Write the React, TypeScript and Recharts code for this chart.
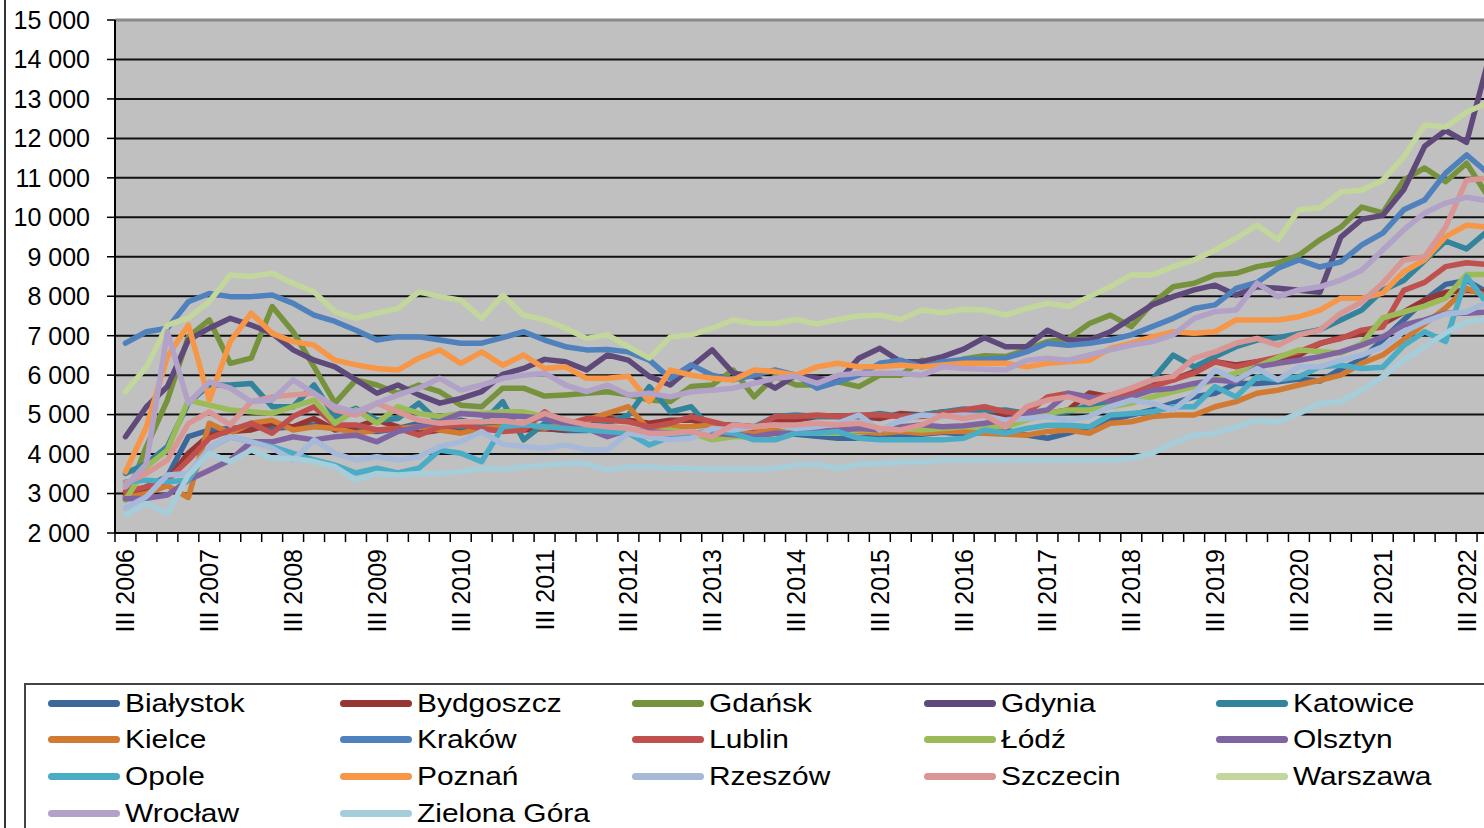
import { LineChart, Line, XAxis, YAxis, CartesianGrid, ReferenceLine } from "recharts";

// quarters III 2006 .. IV 2022
const quarterCount = 66;
const yearLabels = [
  "III 2006", "III 2007", "III 2008", "III 2009", "III 2010", "III 2011", "III 2012", "III 2013", "III 2014",
  "III 2015", "III 2016", "III 2017", "III 2018", "III 2019", "III 2020", "III 2021", "III 2022",
];
const yTicks = [2000, 3000, 4000, 5000, 6000, 7000, 8000, 9000, 10000, 11000, 12000, 13000, 14000, 15000];

const bialystok = [2920, 3170, 3430, 4440, 4610, 4650, 4690, 4650, 4690, 4740, 4650, 4610, 4570, 4650, 4780, 4740, 4860, 4740, 4690, 4700, 4650, 4600, 4600, 4650, 4550, 4500, 4550, 4500, 4550, 4500, 4500, 4550, 4500, 4450, 4400, 4400, 4450, 4450, 4500, 4550, 4500, 4550, 4610, 4480, 4400, 4530, 4690, 4860, 4990, 5120, 5290, 5450, 5540, 5790, 5790, 5830, 5900, 5850, 6150, 6400, 6900, 7400, 7900, 8300, 8400, 8100];
const bydgoszcz = [2960, 3090, 3340, 4020, 4480, 4570, 4610, 4780, 4690, 4900, 4610, 4690, 4860, 4690, 4530, 4610, 4650, 4610, 4650, 4610, 4650, 4610, 4690, 4900, 4860, 4780, 4860, 4860, 4740, 4740, 4690, 4860, 4860, 4950, 4950, 4950, 4900, 5030, 4990, 5070, 5030, 4990, 4990, 4990, 5030, 5120, 5550, 5450, 5620, 5790, 5880, 6090, 6340, 6260, 6340, 6400, 6500, 6800, 6950, 7050, 7300, 7600, 7900, 8100, 8150, 8100];
const gdansk = [2840, 4190, 5370, 6970, 7400, 6300, 6430, 7740, 7100, 6210, 5290, 5880, 5750, 5540, 5750, 5580, 5240, 5200, 5670, 5670, 5470, 5500, 5540, 5580, 5500, 5370, 5330, 5710, 5750, 6130, 5450, 5970, 5750, 5750, 5830, 5710, 6000, 6000, 6380, 6210, 6410, 6490, 6470, 6640, 6850, 6930, 7310, 7520, 7230, 7820, 8240, 8330, 8540, 8580, 8750, 8840, 9040, 9430, 9750, 10260, 10110, 10940, 11250, 10900, 11370, 10550];
const gdynia = [4440, 5200, 5710, 6890, 7190, 7440, 7270, 7060, 6640, 6380, 6210, 5880, 5540, 5750, 5500, 5290, 5410, 5580, 6020, 6170, 6400, 6340, 6130, 6510, 6380, 5970, 5750, 6210, 6640, 6050, 5970, 5670, 6000, 5920, 5830, 6430, 6680, 6340, 6340, 6470, 6660, 6950, 6720, 6720, 7140, 6890, 6890, 7100, 7440, 7780, 7990, 8160, 8280, 8030, 8240, 8200, 8150, 8100, 9500, 9950, 10050, 10700, 11800, 12200, 11900, 13900];
const katowice = [3510, 3760, 4190, 5290, 5750, 5750, 5790, 5200, 5200, 5750, 4950, 5160, 4860, 4900, 5290, 4780, 4690, 4780, 5330, 4360, 4780, 4650, 4690, 4780, 4990, 5710, 5070, 5200, 4610, 4650, 4690, 4950, 4990, 4950, 4950, 4950, 5030, 4950, 4990, 5070, 5140, 5100, 5120, 5030, 5030, 5070, 5240, 5330, 5500, 5880, 6510, 6210, 6470, 6720, 6890, 6950, 7050, 7150, 7400, 7650, 8150, 8400, 8900, 9400, 9200, 9650];
const kielce = [2900, 3000, 3200, 2900, 4780, 4530, 4780, 4860, 4610, 4690, 4650, 4530, 4610, 4650, 4690, 4610, 4530, 4650, 4690, 4780, 4650, 4780, 4860, 5030, 5200, 4610, 4690, 4690, 4740, 4650, 4570, 4610, 4570, 4530, 4530, 4570, 4530, 4570, 4530, 4570, 4570, 4530, 4500, 4480, 4570, 4610, 4530, 4780, 4820, 4950, 4990, 4990, 5200, 5330, 5540, 5620, 5750, 5870, 6000, 6300, 6510, 6900, 7300, 7700, 8200, 8000];
const krakow = [6810, 7100, 7190, 7860, 8070, 7990, 7990, 8030, 7820, 7520, 7360, 7140, 6890, 6970, 6970, 6890, 6810, 6810, 6950, 7100, 6890, 6720, 6640, 6650, 6590, 6380, 5920, 6260, 6000, 5880, 6000, 6130, 6000, 5670, 5830, 6000, 6300, 6380, 6210, 6340, 6400, 6400, 6430, 6590, 6810, 6760, 6810, 6890, 7020, 7230, 7440, 7690, 7780, 8200, 8350, 8710, 8920, 8740, 8870, 9300, 9600, 10190, 10440, 11120, 11580, 11130];
const lublin = [3050, 3170, 3340, 3850, 4400, 4610, 4780, 4530, 4950, 5200, 4740, 4740, 4610, 4650, 4480, 4690, 4740, 4650, 4570, 4610, 5070, 4740, 4900, 4860, 4820, 4690, 4780, 4950, 4820, 4690, 4650, 4950, 4950, 4990, 4950, 4990, 4990, 4950, 4950, 5030, 5120, 5200, 5070, 5030, 5450, 5540, 5400, 5500, 5540, 5710, 5880, 6050, 6340, 6210, 6340, 6460, 6590, 6810, 6930, 7140, 7220, 8150, 8350, 8750, 8850, 8800];
const lodz = [2840, 3680, 4100, 5370, 5240, 5120, 5070, 5030, 5200, 5370, 4780, 5120, 4780, 5200, 5030, 4950, 5030, 5030, 5070, 5070, 4950, 4780, 4690, 4690, 4650, 4530, 4610, 4530, 4360, 4440, 4440, 4490, 4610, 4530, 4530, 4610, 4610, 4650, 4610, 4650, 4690, 4690, 4690, 4860, 5030, 5120, 5120, 5200, 5290, 5450, 5580, 5710, 5880, 6050, 6210, 6450, 6640, 6600, 6560, 6800, 7450, 7600, 7750, 7950, 8550, 8550];
const olsztyn = [2870, 2880, 2960, 3340, 3590, 3850, 4310, 4310, 4440, 4360, 4440, 4480, 4310, 4570, 4690, 4820, 5030, 4990, 4970, 4950, 4900, 4780, 4650, 4440, 4610, 4570, 4530, 4530, 4530, 4490, 4440, 4530, 4530, 4570, 4610, 4650, 4610, 4690, 4740, 4690, 4720, 4780, 4860, 5030, 5120, 5540, 5450, 5330, 5450, 5620, 5670, 5790, 5880, 5830, 6210, 6300, 6380, 6470, 6590, 6760, 6970, 7270, 7400, 7570, 7570, 7600];
const opole = [3290, 3340, 3300, 3340, 4150, 4440, 4310, 4190, 4020, 3850, 3720, 3520, 3640, 3520, 3640, 4100, 4020, 3810, 4690, 4740, 4690, 4650, 4610, 4570, 4530, 4230, 4440, 4490, 4610, 4530, 4360, 4360, 4530, 4530, 4570, 4400, 4360, 4360, 4360, 4360, 4400, 4610, 4530, 4650, 4730, 4730, 4690, 4990, 5030, 5070, 5200, 5200, 5710, 5450, 5960, 5880, 5960, 6210, 6250, 6170, 6200, 6750, 7100, 6850, 8500, 7800];
const poznan = [3550, 4690, 6470, 7270, 5370, 6850, 7570, 7060, 6850, 6760, 6380, 6260, 6170, 6130, 6430, 6640, 6300, 6590, 6250, 6510, 6170, 6210, 5920, 5920, 5970, 5330, 6130, 6000, 5920, 5880, 6130, 6090, 6000, 6210, 6300, 6210, 6210, 6260, 6210, 6260, 6300, 6300, 6300, 6210, 6300, 6340, 6380, 6680, 6810, 6970, 7100, 7060, 7100, 7400, 7400, 7400, 7480, 7650, 7950, 7950, 8080, 8620, 8920, 9510, 9800, 9750];
const rzeszow = [2630, 2920, 3470, 3510, 4150, 4440, 4310, 4150, 3850, 4360, 4020, 3850, 3930, 3850, 3930, 4190, 4310, 4570, 4250, 4190, 4150, 4230, 4110, 4110, 4530, 4440, 4360, 4400, 4650, 4610, 4690, 4740, 4650, 4690, 4780, 4990, 4610, 4860, 4990, 4950, 4990, 4970, 4860, 4900, 4950, 4860, 4950, 5200, 5370, 5290, 5120, 5540, 6130, 5880, 6170, 5880, 6210, 6210, 6380, 6510, 6720, 7100, 7350, 7550, 7600, 7850];
const szczecin = [3260, 3510, 3850, 4780, 5070, 4740, 5330, 5450, 5500, 5540, 5120, 4990, 5290, 5070, 4860, 4780, 4820, 4820, 4840, 4780, 5030, 4860, 4740, 4690, 4650, 4530, 4530, 4570, 4440, 4740, 4690, 4740, 4740, 4780, 4740, 4780, 4650, 4610, 4740, 4990, 4900, 4990, 4690, 5200, 5370, 5450, 5290, 5500, 5670, 5880, 5970, 6430, 6590, 6810, 6930, 6760, 7020, 7140, 7570, 7850, 8330, 8920, 9000, 9750, 10940, 10990];
const warszawa = [5580, 6210, 7270, 7450, 7860, 8540, 8500, 8580, 8330, 8110, 7610, 7440, 7570, 7690, 8110, 7990, 7900, 7440, 8030, 7520, 7400, 7190, 6930, 7020, 6720, 6430, 6970, 7020, 7190, 7400, 7310, 7310, 7410, 7300, 7410, 7500, 7520, 7410, 7650, 7580, 7670, 7650, 7520, 7690, 7820, 7740, 7990, 8240, 8540, 8540, 8750, 8920, 9170, 9470, 9800, 9430, 10190, 10240, 10640, 10690, 10940, 11530, 12340, 12290, 12670, 12900];
const wroclaw = [3170, 3760, 7100, 5290, 5830, 5670, 5330, 5370, 5880, 5540, 5200, 5070, 5290, 5500, 5670, 5920, 5620, 5750, 5920, 6000, 6050, 5750, 5580, 5750, 5500, 5540, 5450, 5580, 5620, 5670, 5790, 5920, 5970, 5790, 6000, 6050, 6050, 6050, 6000, 6210, 6170, 6150, 6130, 6380, 6430, 6380, 6510, 6640, 6760, 6850, 7020, 7440, 7610, 7650, 8330, 7990, 8160, 8240, 8410, 8660, 9170, 9680, 10110, 10360, 10510, 10420];
const zielonaGora = [2460, 2750, 2500, 3470, 4020, 3810, 4100, 3890, 3890, 3810, 3680, 3340, 3510, 3470, 3510, 3510, 3550, 3640, 3620, 3680, 3720, 3760, 3760, 3600, 3680, 3680, 3640, 3640, 3620, 3620, 3620, 3640, 3720, 3740, 3640, 3740, 3760, 3800, 3800, 3850, 3850, 3850, 3850, 3850, 3850, 3850, 3850, 3850, 3890, 4020, 4280, 4480, 4530, 4690, 4860, 4820, 5030, 5290, 5330, 5620, 5960, 6380, 6720, 7070, 7350, 7420];

const cities = [
  { name: "Białystok", color: "#3C679A", values: bialystok },
  { name: "Bydgoszcz", color: "#963634", values: bydgoszcz },
  { name: "Gdańsk", color: "#76923C", values: gdansk },
  { name: "Gdynia", color: "#5F497A", values: gdynia },
  { name: "Katowice", color: "#31849B", values: katowice },
  { name: "Kielce", color: "#D07A32", values: kielce },
  { name: "Kraków", color: "#4F81BD", values: krakow },
  { name: "Lublin", color: "#C0504D", values: lublin },
  { name: "Łódź", color: "#9BBB59", values: lodz },
  { name: "Olsztyn", color: "#8064A2", values: olsztyn },
  { name: "Opole", color: "#4BACC6", values: opole },
  { name: "Poznań", color: "#F79646", values: poznan },
  { name: "Rzeszów", color: "#A6B9D9", values: rzeszow },
  { name: "Szczecin", color: "#D99694", values: szczecin },
  { name: "Warszawa", color: "#C3D69B", values: warszawa },
  { name: "Wrocław", color: "#B3A2C7", values: wroclaw },
  { name: "Zielona Góra", color: "#A5CDDA", values: zielonaGora },
];

const rows = Array.from({ length: quarterCount }, (_, q) => {
  const row: Record<string, number> = { q };
  cities.forEach((c) => {
    row[c.name] = c.values[q];
  });
  return row;
});

// tick marks between quarters, labels on every third quarter
const xTicks = [
  ...Array.from({ length: quarterCount + 1 }, (_, i) => i - 0.5),
  ...yearLabels.map((_, i) => i * 4),
];

const FONT = "'Liberation Sans', Arial, sans-serif";

function QuarterTick({ x, y, payload }: any) {
  const v = payload.value;
  if (!Number.isInteger(v)) {
    return <line x1={x} y1={y} x2={x} y2={y + 9} stroke="#000" strokeWidth={1.5} />;
  }
  const ty = y + 16;
  return (
    <text
      x={x}
      y={ty}
      transform={`rotate(-90 ${x} ${ty})`}
      textAnchor="end"
      dominantBaseline="central"
      fontSize={25}
      fontFamily={FONT}
      fill="#000"
    >
      {yearLabels[v / 4]}
    </text>
  );
}

const fmt = (v: number) => String(v).replace(/\B(?=(\d{3})+(?!\d))/g, " ");

export default function App() {
  return (
    <div style={{ position: "absolute", left: 0, top: 0, width: 1484, height: 828, overflow: "hidden", background: "#fff", fontFamily: FONT }}>
      <div style={{ position: "absolute", left: 4, top: 0, width: 2, height: 828, background: "#333" }} />
      <LineChart width={1498} height={650} data={rows} margin={{ top: 20, right: 0, bottom: 0, left: 0 }}>
        <CartesianGrid vertical={false} stroke="#111" strokeWidth={2} fill="#C0C0C0" />
        <ReferenceLine y={15000} stroke="#8a8a8a" strokeWidth={3} />
        <XAxis
          dataKey="q"
          type="number"
          domain={[-0.5, quarterCount - 0.5]}
          ticks={xTicks}
          interval={0}
          tick={<QuarterTick />}
          tickLine={false}
          tickSize={0}
          tickMargin={0}
          axisLine={{ stroke: "#000", strokeWidth: 2 }}
          height={117}
        />
        <YAxis
          type="number"
          domain={[2000, 15000]}
          ticks={yTicks}
          interval={0}
          tickFormatter={fmt}
          width={115}
          tickSize={8}
          tickMargin={17}
          tickLine={{ stroke: "#000", strokeWidth: 1.5 }}
          axisLine={{ stroke: "#000", strokeWidth: 2 }}
          tick={{ fontSize: 25, fill: "#000", fontFamily: FONT }}
        />
        {cities.map((c) => (
          <Line
            key={c.name}
            type="linear"
            dataKey={c.name}
            stroke={c.color}
            strokeWidth={5.5}
            strokeLinejoin="round"
            strokeLinecap="round"
            dot={false}
            activeDot={false}
            isAnimationActive={false}
          />
        ))}
      </LineChart>
      <div style={{ position: "absolute", left: 24, top: 683, width: 1500, height: 200, border: "2px solid #444", boxSizing: "border-box" }}>
        {cities.map((c, i) => (
          <div
            key={c.name}
            style={{ position: "absolute", left: 22 + (i % 5) * 292, top: 1 + Math.floor(i / 5) * 36.7, height: 34, display: "flex", alignItems: "center", whiteSpace: "nowrap" }}
          >
            <span style={{ display: "inline-block", width: 72, height: 7, borderRadius: 4, background: c.color }} />
            <span style={{ display: "inline-block", marginLeft: 5, fontSize: 26, color: "#000", transform: "scaleX(1.15)", transformOrigin: "left center" }}>
              {c.name}
            </span>
          </div>
        ))}
      </div>
    </div>
  );
}
